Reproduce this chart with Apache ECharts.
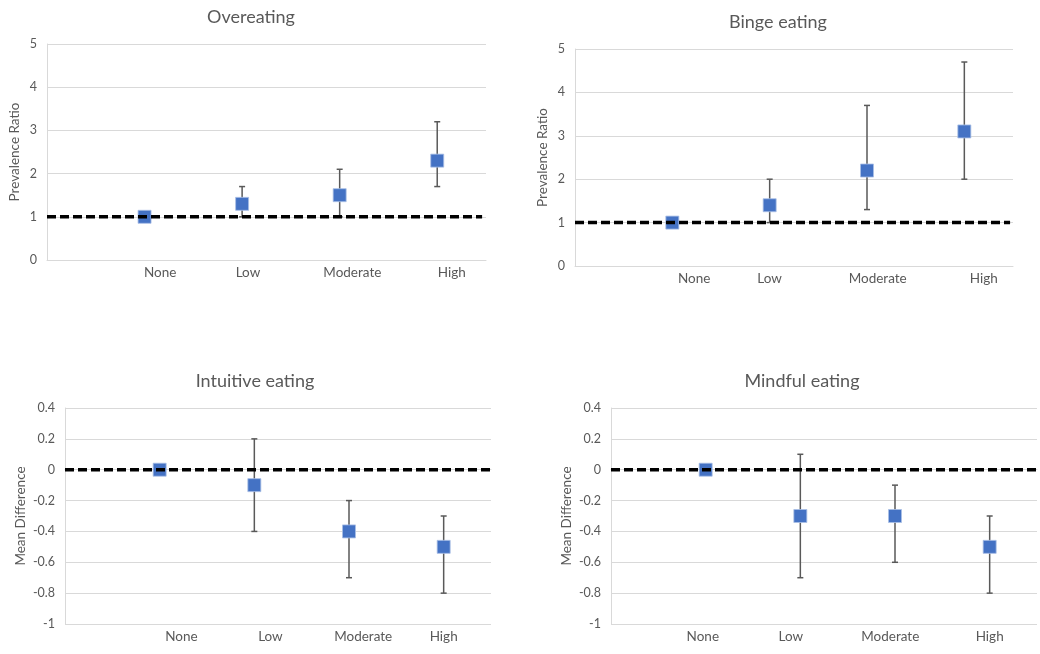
<!DOCTYPE html>
<html><head><meta charset="utf-8">
<script src="https://cdn.jsdelivr.net/npm/echarts@6/dist/echarts.min.js"></script>
<style>html,body{margin:0;padding:0;background:#fff}#c{width:1040px;height:654px}</style>
</head><body><div id="c"></div>
<script>
// ---- data ----
const categories = ['None', 'Low', 'Moderate', 'High'];
const titles = ['Overeating', 'Binge eating', 'Intuitive eating', 'Mindful eating'];
const yNames = ['Prevalence Ratio', 'Prevalence Ratio', 'Mean Difference', 'Mean Difference'];
const overeatingEst = [1.0, 1.3, 1.5, 2.3];
const overeatingLow = [null, 1.0, 1.0, 1.7];
const overeatingHigh = [null, 1.7, 2.1, 3.2];
const bingeEst = [1.0, 1.4, 2.2, 3.1];
const bingeLow = [null, 1.0, 1.3, 2.0];
const bingeHigh = [null, 2.0, 3.7, 4.7];
const intuitiveEst = [0, -0.1, -0.4, -0.5];
const intuitiveLow = [null, -0.4, -0.7, -0.8];
const intuitiveHigh = [null, 0.2, -0.2, -0.3];
const mindfulEst = [0, -0.3, -0.3, -0.5];
const mindfulLow = [null, -0.7, -0.6, -0.8];
const mindfulHigh = [null, 0.1, -0.1, -0.3];
const referenceValues = [1, 1, 0, 0];
const ratioTicks = {min: 0, max: 5, interval: 1};
const diffTicks = {min: -1, max: 0.4, interval: 0.2};

// ---- layout ----
const panels = [
  {est: overeatingEst, lo: overeatingLow, hi: overeatingHigh, ticks: ratioTicks,
   grid: {left: 47, right: 554, top: 44, bottom: 394}, title: [246, 3], nameGap: 25,
   labelPos: [1.16, 2.06, 3.13, 4.15], lineEnd: 4.46},
  {est: bingeEst, lo: bingeLow, hi: bingeHigh, ticks: ratioTicks,
   grid: {left: 575, right: 27, top: 49, bottom: 388}, title: [773, 8], nameGap: 25,
   labelPos: [1.225, 2.0, 3.11, 4.2], lineEnd: 4.47},
  {est: intuitiveEst, lo: intuitiveLow, hi: intuitiveHigh, ticks: diffTicks,
   grid: {left: 65, right: 549, top: 408, bottom: 30}, title: [250, 367], nameGap: 37,
   labelPos: [1.23, 2.17, 3.15, 4.0], lineEnd: 4.56},
  {est: mindfulEst, lo: mindfulLow, hi: mindfulHigh, ticks: diffTicks,
   grid: {left: 611, right: 3, top: 408, bottom: 30}, title: [797, 367], nameGap: 37,
   labelPos: [0.97, 1.9, 2.95, 4.0], lineEnd: 4.55}
];

const textColor = '#595959';
const font = 'Lato, "Open Sans", sans-serif';
const option = {
  animation: false,
  backgroundColor: '#fff',
  title: [], grid: [], xAxis: [], yAxis: [], series: []
};

panels.forEach((p, i) => {
  option.title.push({
    text: titles[i], left: p.title[0], top: p.title[1], textAlign: 'center',
    textStyle: {color: textColor, fontFamily: font, fontSize: 18, fontWeight: 'normal'}
  });
  option.grid.push(Object.assign({containLabel: false}, p.grid));
  const pos = p.labelPos;
  option.xAxis.push({
    type: 'value', gridIndex: i, min: 0, max: 4.5,
    axisLine: {show: true, lineStyle: {color: '#d9d9d9', width: 1}},
    axisTick: {show: false}, splitLine: {show: false},
    axisLabel: {
      customValues: pos, margin: 6, color: textColor, fontFamily: font, fontSize: 13.5,
      showMinLabel: true, showMaxLabel: true,
      formatter: function (v) {
        let best = 0, d = 1e9;
        pos.forEach((q, k) => { if (Math.abs(q - v) < d) { d = Math.abs(q - v); best = k; } });
        return categories[best];
      }
    }
  });
  option.yAxis.push({
    type: 'value', gridIndex: i, min: p.ticks.min, max: p.ticks.max, interval: p.ticks.interval,
    name: yNames[i], nameLocation: 'middle', nameGap: p.nameGap,
    nameTextStyle: {color: textColor, fontFamily: font, fontSize: 13.5},
    axisLine: {show: true, lineStyle: {color: '#d9d9d9', width: 1}},
    axisTick: {show: false},
    splitLine: {show: true, lineStyle: {color: '#d9d9d9', width: 1}},
    axisLabel: {
      color: textColor, fontFamily: font, fontSize: 12.5, margin: 10,
      formatter: v => String(+v.toFixed(1))
    }
  });
  const errData = [];
  p.est.forEach((v, k) => { if (p.lo[k] !== null) errData.push([k + 1, p.lo[k], p.hi[k]]); });
  option.series.push({
    type: 'custom', xAxisIndex: i, yAxisIndex: i, z: 1, data: errData,
    renderItem: function (params, api) {
      const x = api.value(0);
      const a = api.coord([x, api.value(1)]);
      const b = api.coord([x, api.value(2)]);
      const style = {stroke: '#595959', lineWidth: 1.5};
      return {type: 'group', children: [
        {type: 'line', shape: {x1: a[0], y1: a[1], x2: b[0], y2: b[1]}, style: style},
        {type: 'line', shape: {x1: a[0] - 3, y1: a[1], x2: a[0] + 3, y2: a[1]}, style: style},
        {type: 'line', shape: {x1: b[0] - 3, y1: b[1], x2: b[0] + 3, y2: b[1]}, style: style}
      ]};
    }
  });
  option.series.push({
    type: 'scatter', xAxisIndex: i, yAxisIndex: i, z: 2,
    symbol: 'rect', symbolSize: 13,
    itemStyle: {color: '#4472C4', opacity: 1, borderColor: '#a9bfe6', borderWidth: 0.8},
    data: p.est.map((v, k) => [k + 1, v])
  });
  option.series.push({
    type: 'line', xAxisIndex: i, yAxisIndex: i, z: 3, clip: false, symbol: 'none',
    lineStyle: {color: '#000', width: 3.5, type: [9, 4]},
    data: [[0, referenceValues[i]], [p.lineEnd, referenceValues[i]]]
  });
});

echarts.init(document.getElementById('c')).setOption(option);
</script>
</body></html>
